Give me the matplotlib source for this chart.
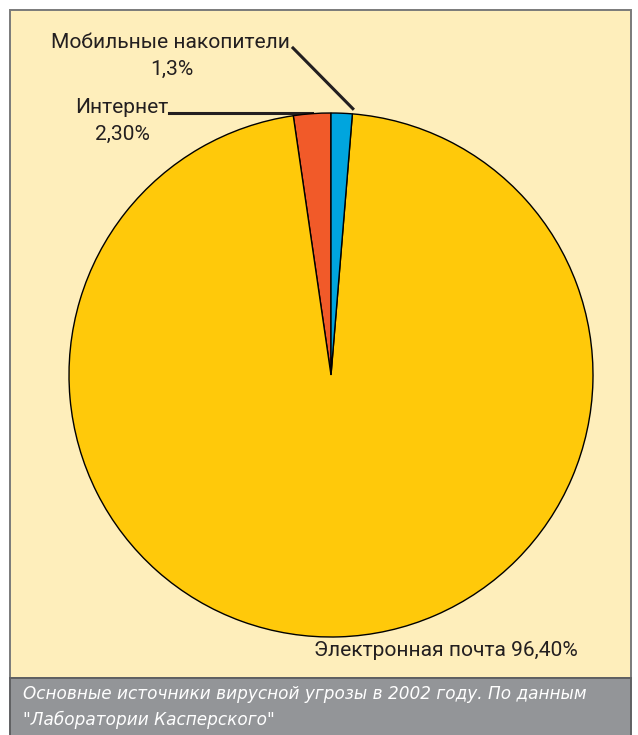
import numpy as np
import matplotlib
matplotlib.use("Agg")
import matplotlib.pyplot as plt
from matplotlib.patches import Rectangle

# Data
categories = ["Интернет", "Электронная почта", "Мобильные накопители"]
values = [2.3, 96.4, 1.3]
value_labels = ["2,30%", "96,40%", "1,3%"]
colors = ["#F15A29", "#FFC90A", "#00A5DE"]
caption_lines = ["Основные источники вирусной угрозы в 2002 году. По данным",
                 "\"Лаборатории Касперского\""]

W, H = 638, 735
fig = plt.figure(figsize=(W / 100, H / 100), dpi=100)
fig.patch.set_facecolor("white")

# Overlay axes in pixel coords
bg = fig.add_axes([0, 0, 1, 1])
bg.set_xlim(0, W)
bg.set_ylim(H, 0)
bg.axis("off")
bg.add_patch(Rectangle((10, 10), 621, 668, facecolor="#FEEEBB",
                       edgecolor="#7a7a7a", linewidth=1.4, zorder=0))
bg.add_patch(Rectangle((10, 678), 621, 62, facecolor="#939598",
                       edgecolor="#5f6062", linewidth=1.4, zorder=0))
for i, line in enumerate(caption_lines):
    bg.text(23, 699 + 26 * i, line, color="white", fontsize=12.15,
            family="DejaVu Sans", style="italic", va="baseline", ha="left")

# Pie axes
cx, cy, r = 331, 375, 262
pax = fig.add_axes([(cx - r) / W, 1 - (cy + r) / H, 2 * r / W, 2 * r / H])
wedges, _ = pax.pie(values, colors=colors, startangle=90, counterclock=True,
                    wedgeprops=dict(edgecolor="black", linewidth=1.0))
pax.set_xlim(-1, 1)
pax.set_ylim(-1, 1)
pax.set_aspect("equal")
pax.axis("off")
pax.set_zorder(1)
bg.set_zorder(0)
pax.patch.set_alpha(0)

def to_px(x, y):
    return cx + x * r, cy - y * r

tfont = dict(family="Roboto", fontsize=15.1, color="#231f20")

# Internet label: horizontal line to red wedge top
w = wedges[0]
a = np.deg2rad(w.theta1 + (w.theta2 - w.theta1) * 0.5)
ex, ey = to_px(np.cos(a), np.sin(a))
bg.plot([169, ex], [113, 113], color="#231f20", lw=2.2, zorder=3)
bg.text(168, 113, categories[0], ha="right", va="baseline", **tfont)
bg.text(122.5, 140, value_labels[0], ha="center", va="baseline", **tfont)

# Mobile label: diagonal line to blue wedge
w = wedges[2]
a = np.deg2rad(w.theta1)
ex, ey = to_px(np.cos(a) * 1.02, np.sin(a) * 1.02)
bg.plot([293, ex], [48, ey], color="#231f20", lw=2.2, zorder=3)
bg.text(290, 48, categories[2], ha="right", va="baseline", **tfont)
bg.text(171.5, 75, value_labels[2], ha="center", va="baseline", **tfont)

# Email label
bg.text(578, 656, f"{categories[1]} {value_labels[1]}", ha="right",
        va="baseline", **tfont)

fig.savefig("out.png", dpi=100)
